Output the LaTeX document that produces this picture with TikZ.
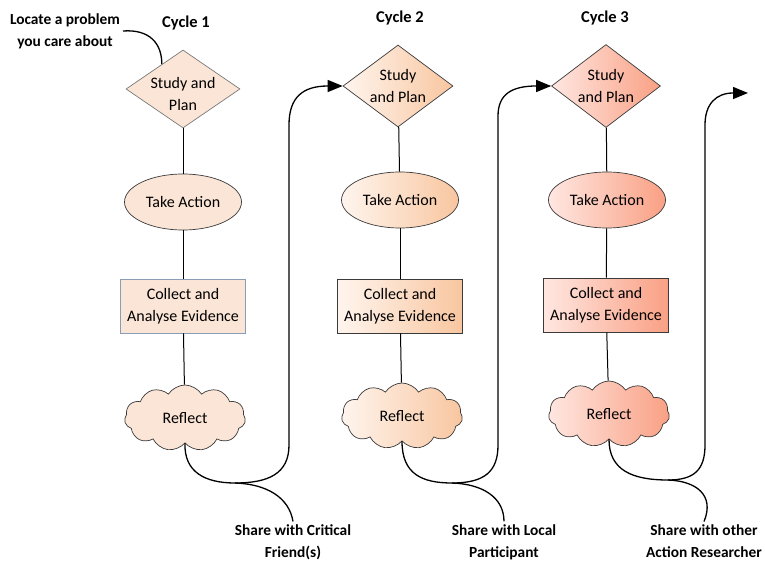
\documentclass[tikz,border=0pt]{standalone}
\usepackage{fontspec}
\setmainfont{Carlito}
\usetikzlibrary{shapes.geometric,shapes.symbols,arrows.meta,calc}

% fills and outlines
\definecolor{peach}{HTML}{FBE5D6}
\definecolor{twoL}{HTML}{FFF5EE}
\definecolor{twoR}{HTML}{F8C6A0}
\definecolor{threeL}{HTML}{FFE7E1}
\definecolor{threeR}{HTML}{F9A084}
\definecolor{edgedark}{HTML}{3A3A3A}
\definecolor{edgegray}{HTML}{7A7A7A}
\definecolor{edgeblue}{HTML}{8A9DB5}

\begin{document}
\begin{tikzpicture}[x=1pt,y=-1pt,
  base/.style={draw=edgedark, line width=0.7pt,
    font=\fontsize{16pt}{21.5pt}\selectfont, align=center, inner sep=0pt},
  plan/.style={base, diamond, aspect=1.4, inner sep=-8pt},
  act/.style={base, ellipse, minimum width=117pt, minimum height=56pt},
  evid/.style={base, rectangle, minimum width=125pt, minimum height=54pt},
  refl/.style={base, cloud, cloud puffs=11, cloud puff arc=115, aspect=1.8,
    minimum width=121pt, minimum height=66pt},
  link/.style={line width=1pt, draw=black},
  flow/.style={line width=1.3pt, draw=black},
  tip/.style={-{Triangle[length=15pt,width=12pt]}},
  lbl/.style={font=\bfseries\fontsize{15.4pt}{22pt}\selectfont, align=center,
    inner sep=0pt, outer sep=3pt},
  cyc/.style={font=\bfseries\fontsize{16.5pt}{20pt}\selectfont, inner sep=0pt},
  one/.style={fill=peach},
  two/.style={left color=twoL, right color=twoR},
  three/.style={left color=threeL, right color=threeR}]

\useasboundingbox (0,0) rectangle (765,561);

% headings
\node[cyc] (cy1) at (186,23) {Cycle 1};
\node[cyc] (cy2) at (400,18) {Cycle 2};
\node[cyc] (cy3) at (605,18) {Cycle 3};
\node[lbl] (loc) at (65,31) {Locate a problem\\you care about};

% cycle 1 (its text sits a little low in the diamond)
\node[plan, one, draw=edgegray, minimum width=114pt, minimum height=78pt] (sp1) at (183,89) {\\Study and\\Plan};
\node[act, one] (ta1) at (183,202) {Take Action};
\node[evid, one, draw=edgeblue] (ev1) at (183,306) {Collect and\\Analyse Evidence};
\node[refl, one] (rf1) at (185,418) {Reflect};

% cycle 2
\node[plan, two, minimum width=110pt, minimum height=82pt] (sp2) at (398,86) {Study\\and Plan};
\node[act, two] (ta2) at (400,200) {Take Action};
\node[evid, two] (ev2) at (400,306) {Collect and\\Analyse Evidence};
\node[refl, two] (rf2) at (402,416) {Reflect};

% cycle 3
\node[plan, three, minimum width=109pt, minimum height=83pt] (sp3) at (606,86) {Study\\and Plan};
\node[act, three] (ta3) at (607,200) {Take Action};
\node[evid, three] (ev3) at (606,305) {Collect and\\Analyse Evidence};
\node[refl, three] (rf3) at (609,414) {Reflect};

% sharing labels
\node[lbl] (sh1) at (293,542) {Share with Critical\\Friend(s)};
\node[lbl] (sh2) at (504,542) {Share with Local\\Participant};
\node[lbl] (sh3) at (704,541) {Share with other\\Action Researcher};

% junctions and the open end
\coordinate (j1) at (235,483);
\coordinate (j2) at (452,483);
\coordinate (j3) at (668,480);
\coordinate (out3) at (748,93);
\coordinate (entry1) at ($(sp1.north)!0.37!(sp1.west)$);

% steps inside each cycle
\foreach \c in {1,2,3}{
  \draw[link] (sp\c) -- (ta\c);
  \draw[link] (ta\c) -- (ev\c);
  \draw[link] (ev\c) -- (rf\c);
}

% start
\draw[flow] (loc.east) .. controls (150,29) and (162,44) .. (entry1);

% from each reflection on to the next cycle
\draw[flow, tip] (rf1.south) .. controls (184,472) and (205,483) .. (j1)
  .. controls (268,483) and (289,474) .. (289,445) -- (289,125)
  .. controls (289,98) and (302,86) .. (sp2.west);
\draw[flow] (j1) .. controls (266,484) and (289,497) .. (sh1.north);

\draw[flow, tip] (rf2.south) .. controls (402,474) and (422,483) .. (j2)
  .. controls (484,483) and (498,472) .. (498,445) -- (498,116)
  .. controls (498,94) and (512,86) .. (sp3.west);
\draw[flow] (j2) .. controls (482,484) and (504,497) .. (sh2.north);

\draw[flow, tip] (rf3.south) .. controls (609,470) and (632,480) .. (j3)
  .. controls (694,480) and (705,470) .. (705,445) -- (705,125)
  .. controls (705,104) and (716,93) .. (out3);
\draw[flow] (j3) .. controls (696,481) and (715,495) .. (sh3.north);

\end{tikzpicture}
\end{document}
